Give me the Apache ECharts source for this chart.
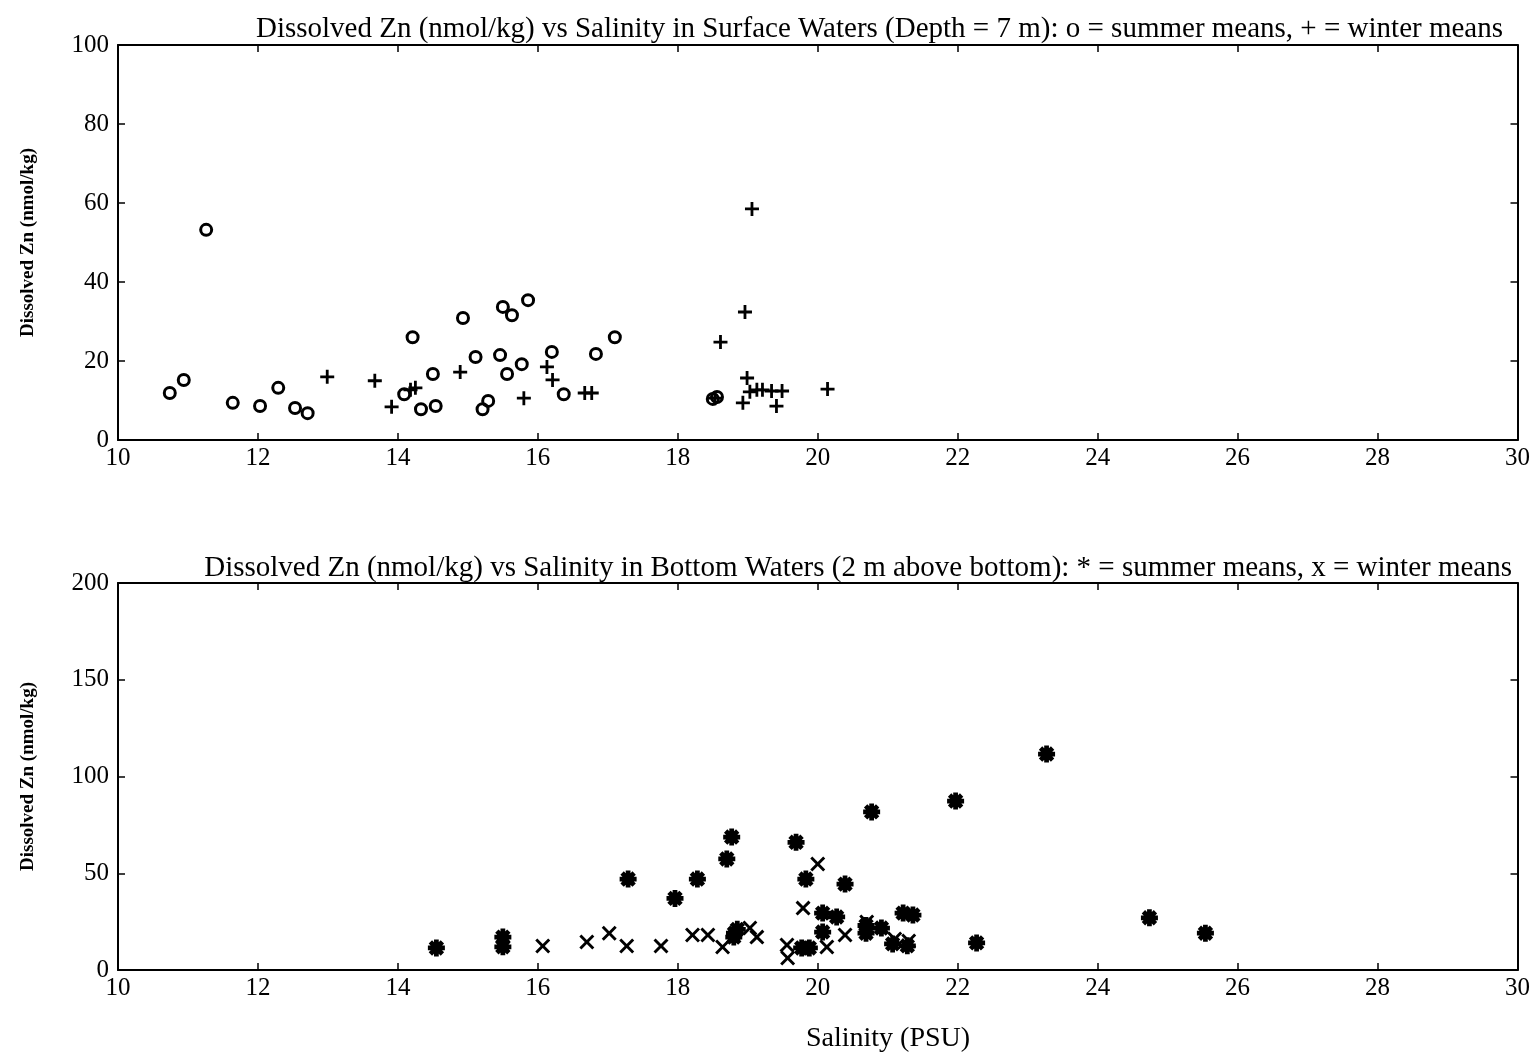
<!DOCTYPE html>
<html>
<head>
<meta charset="utf-8">
<script src="https://cdn.jsdelivr.net/npm/echarts@6/dist/echarts.min.js"></script>
<style>
  html, body { margin: 0; padding: 0; background: #fff; }
  #chart { width: 1533px; height: 1055px; }
</style>
</head>
<body>
<div id="chart"></div>
<script>
// surface waters (depth 7 m): [salinity, Zn]
const surfSummer = [
  [10.74, 11.9], [10.94, 15.2], [11.26, 53.2], [11.64, 9.4], [12.03, 8.6], [12.29, 13.2],
  [12.53, 8.1], [12.71, 6.8], [14.09, 11.6], [14.21, 26], [14.5, 16.7], [14.33, 7.8],
  [14.54, 8.6], [14.93, 30.9], [15.11, 21], [15.21, 7.8], [15.29, 9.9], [15.5, 33.7],
  [15.63, 31.6], [15.86, 35.4], [15.46, 21.5], [15.56, 16.7], [15.77, 19.2], [16.2, 22.3],
  [16.37, 11.6], [16.83, 21.8], [17.1, 26], [18.56, 10.9], [18.5, 10.4]
];
const surfWinter = [
  [12.99, 16], [13.67, 15], [13.91, 8.4], [14.18, 12.7], [14.25, 13.2], [14.89, 17.2],
  [15.8, 10.6], [16.13, 18.5], [16.21, 15.2], [16.67, 11.9], [16.77, 11.9], [18.53, 10.6],
  [18.61, 24.8], [18.96, 32.4], [19.06, 58.5], [18.99, 15.7], [18.93, 9.4], [19.03, 12.2],
  [19.13, 12.7], [19.21, 12.7], [19.34, 12.4], [19.49, 12.4], [19.41, 8.6], [20.14, 12.9]
];

// bottom waters (2 m above bottom)
const botSummer = [
  [14.55, 11.4], [15.5, 17], [15.5, 12], [17.29, 47], [17.96, 37], [18.28, 47],
  [18.7, 57.4], [18.77, 68.7], [18.81, 19], [18.85, 21], [18.8, 17], [19.69, 66],
  [19.83, 47], [19.77, 11.4], [19.88, 11.4], [20.07, 29.4], [20.07, 19.6], [20.27, 27.4],
  [20.39, 44.4], [20.69, 23], [20.69, 19], [20.77, 81.7], [20.91, 21.7], [21.07, 13.5],
  [21.22, 29.4], [21.36, 28.4], [21.28, 12.5], [21.97, 87.3], [22.27, 14], [23.27, 111.6],
  [24.74, 27], [25.54, 19]
];
const botWinter = [
  [16.07, 12.4], [16.7, 14.5], [17.02, 19], [17.27, 12.4], [17.76, 12.4], [18.21, 18.1],
  [18.43, 18.1], [18.64, 11.9], [19.03, 21.7], [19.13, 17], [19.56, 12.9], [19.57, 6.2],
  [19.79, 32], [20.0, 54.8], [20.13, 11.9], [20.39, 18.1], [20.7, 24.8], [21.1, 16], [21.3, 15]
];

const topTitle = 'Dissolved Zn (nmol/kg) vs Salinity in Surface Waters (Depth = 7 m): o = summer means, + = winter means';
const botTitle = 'Dissolved Zn (nmol/kg) vs Salinity in Bottom Waters (2 m above bottom): * = summer means, x = winter means';
const yName = 'Dissolved Zn (nmol/kg)';
const xName = 'Salinity (PSU)';

const FONT = '"Liberation Serif", "DejaVu Serif", serif';

// cross shaped path, optionally rotated, w = half arm width
function crossPts(w, rot) {
  const base = [[-w,-5],[w,-5],[w,-w],[5,-w],[5,w],[w,w],[w,5],[-w,5],[-w,w],[-5,w],[-5,-w],[-w,-w]];
  const c = Math.cos(rot), s = Math.sin(rot);
  return base.map(p => [p[0]*c - p[1]*s, p[0]*s + p[1]*c]);
}
function toPath(pts) {
  return 'M' + pts.map(p => p[0].toFixed(2) + ',' + p[1].toFixed(2)).join(' L') + ' Z';
}
const plusPath = 'path://' + toPath(crossPts(1.0, 0));
const xPath = 'path://' + toPath(crossPts(0.8, Math.PI / 4));
const starPath = 'path://' + toPath(crossPts(1.4, 0)) + ' ' + toPath(crossPts(1.4, Math.PI / 4));

const chart = echarts.init(document.getElementById('chart'));

function xAx(gi, show) {
  return {
    gridIndex: gi, type: 'value', min: 10, max: 30, interval: 2,
    position: show ? 'bottom' : 'top',
    axisLine: { onZero: false, lineStyle: { color: '#000', width: 2 } },
    axisTick: { inside: true, length: 7, lineStyle: { color: '#000', width: 1.5 } },
    axisLabel: { show: show, color: '#000', fontFamily: FONT, fontSize: 25, margin: 6 },
    splitLine: { show: false }
  };
}
function yAx(gi, max, interval, show) {
  return {
    gridIndex: gi, type: 'value', min: 0, max: max, interval: interval,
    position: show ? 'left' : 'right',
    name: show ? yName : '',
    nameLocation: 'middle', nameGap: 80, nameRotate: 90,
    nameTextStyle: { color: '#000', fontFamily: FONT, fontSize: 19, fontWeight: 'bold' },
    axisLine: { onZero: false, lineStyle: { color: '#000', width: 2 } },
    axisTick: { inside: true, length: 7, lineStyle: { color: '#000', width: 1.5 } },
    axisLabel: { show: show, color: '#000', fontFamily: FONT, fontSize: 25, margin: 9 },
    splitLine: { show: false }
  };
}

const option = {
  backgroundColor: '#fff',
  animation: false,
  title: [
    { text: topTitle, right: 25, top: 10, textStyle: { fontFamily: FONT, fontSize: 29, fontWeight: 'normal', color: '#000' } },
    { text: botTitle, right: 16, top: 549, textStyle: { fontFamily: FONT, fontSize: 29, fontWeight: 'normal', color: '#000' } }
  ],
  grid: [
    { left: 118, top: 45, width: 1400, height: 395 },
    { left: 118, top: 583, width: 1400, height: 387 }
  ],
  xAxis: [xAx(0, true), xAx(0, false), xAx(1, true), xAx(1, false)],
  yAxis: [yAx(0, 100, 20, true), yAx(0, 100, 20, false), yAx(1, 200, 50, true), yAx(1, 200, 50, false)],
  graphic: [
    { type: 'text', left: 806, top: 1025, style: { text: xName, fontFamily: FONT, fontSize: 28, fill: '#000' } }
  ],
  series: [
    {
      name: 'surface summer', type: 'scatter', xAxisIndex: 0, yAxisIndex: 0, data: surfSummer,
      symbol: 'circle', symbolSize: 11,
      itemStyle: { color: 'transparent', borderColor: '#000', borderWidth: 3, opacity: 1 }
    },
    {
      name: 'surface winter', type: 'scatter', xAxisIndex: 0, yAxisIndex: 0, data: surfWinter,
      symbol: plusPath, symbolSize: 14,
      itemStyle: { color: '#000', opacity: 1 }
    },
    {
      name: 'bottom summer', type: 'scatter', xAxisIndex: 2, yAxisIndex: 2, data: botSummer,
      symbol: starPath, symbolSize: 17,
      itemStyle: { color: '#000', opacity: 1 }
    },
    {
      name: 'bottom winter', type: 'scatter', xAxisIndex: 2, yAxisIndex: 2, data: botWinter,
      symbol: xPath, symbolSize: 15,
      itemStyle: { color: '#000', opacity: 1 }
    }
  ]
};

chart.setOption(option);
</script>
</body>
</html>
